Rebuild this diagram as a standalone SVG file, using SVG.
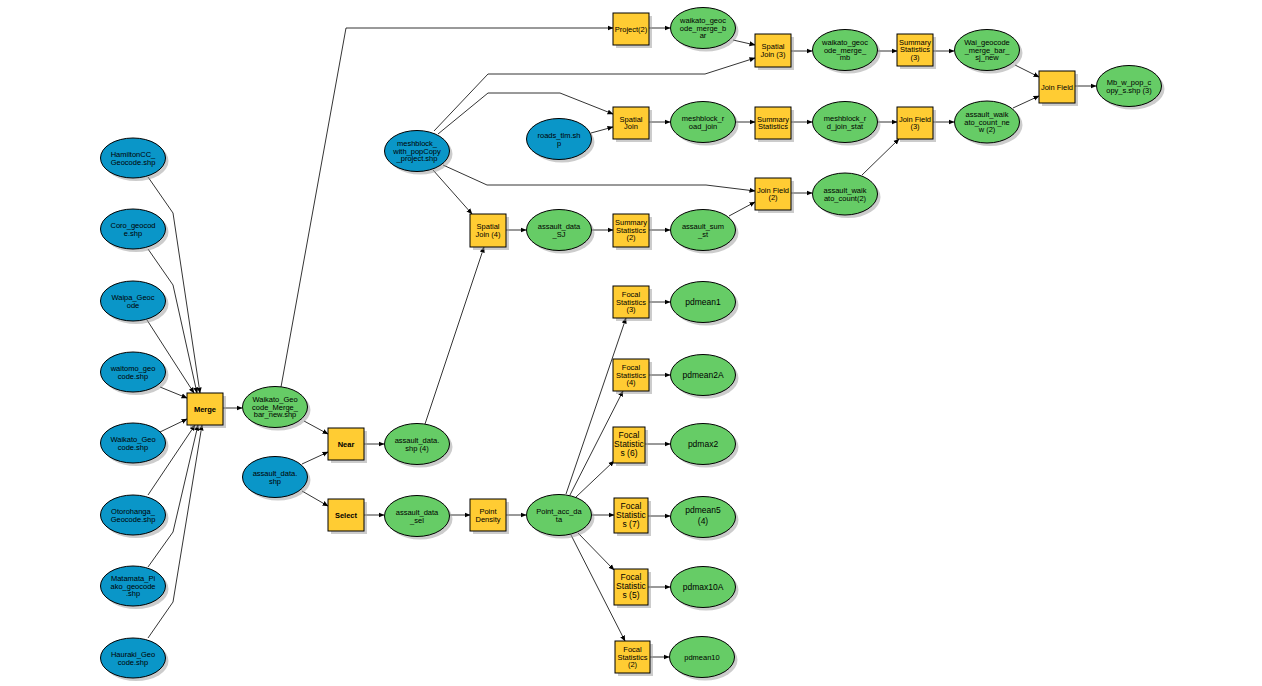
<svg xmlns="http://www.w3.org/2000/svg" width="1262" height="686" viewBox="0 0 1262 686">
<style>
.in{fill:#0A96C8;stroke:#000;stroke-width:1}
.out{fill:#66CC66;stroke:#000;stroke-width:1}
.tool{fill:#FFCC33;stroke:#000;stroke-width:1}
.sh{fill:#9A9A9A;opacity:0.5}
text{font-family:"Liberation Sans",Arial,sans-serif;font-size:7.5px;text-anchor:middle;fill:#000}
.b{font-weight:bold}
.big{font-size:8.5px}
#connectors path{fill:none;stroke:#000;stroke-width:0.8;marker-end:url(#arr)}
</style>
<defs>
<marker id="arr" markerUnits="userSpaceOnUse" markerWidth="6" markerHeight="6" refX="5.5" refY="3" orient="auto">
<path d="M0,0.5 L6,3 L0,5.5 z" fill="#000"/>
</marker>
</defs>
<rect width="1262" height="686" fill="#fff"/>

<g id="connectors">
<path d="M148,177 L173,213 L200,393"/>
<path d="M148,249 L173,285 L197,393"/>
<path d="M147,320 L194,393"/>
<path d="M160,387 L187,398"/>
<path d="M160,432 L187,419"/>
<path d="M148,495 L195,425"/>
<path d="M148,567 L173,532 L198,425"/>
<path d="M148,638 L173,602 L202,425"/>
<path d="M223,408 L242,408"/>
<path d="M281,387 L346,28 L613,28"/>
<path d="M304,421 L328,434"/>
<path d="M302,464 L328,452"/>
<path d="M302,491 L328,506"/>
<path d="M364,444 L384,444"/>
<path d="M364,515 L384,515"/>
<path d="M450,515 L470,515"/>
<path d="M506,515 L526,515"/>
<path d="M425,424 L484,247"/>
<path d="M433,170 L472,214"/>
<path d="M443,165 L487,185 L706,185 L755,191"/>
<path d="M438,134 L488,93 L560,93 L613,114"/>
<path d="M434,131 L488,74 L705,74 L755,58"/>
<path d="M591,133 L613,127"/>
<path d="M649,28 L670,28"/>
<path d="M733,40 L755,45"/>
<path d="M791,51 L812,51"/>
<path d="M878,51 L897,51"/>
<path d="M933,51 L954,51"/>
<path d="M1015,65 L1039,77"/>
<path d="M649,122 L670,122"/>
<path d="M736,122 L755,122"/>
<path d="M791,122 L812,122"/>
<path d="M878,122 L897,122"/>
<path d="M933,122 L954,122"/>
<path d="M1013,108 L1039,96"/>
<path d="M1075,86 L1096,86"/>
<path d="M862,175 L899,139"/>
<path d="M791,193 L812,193"/>
<path d="M729,216 L755,202"/>
<path d="M649,230 L670,230"/>
<path d="M592,230 L613,230"/>
<path d="M506,230 L526,230"/>
<path d="M566,494 L626,318"/>
<path d="M570,495 L623,391"/>
<path d="M576,497 L614,461"/>
<path d="M592,515 L614,515"/>
<path d="M578,533 L614,570"/>
<path d="M571,535 L625,641"/>
<path d="M649,302 L670,302"/>
<path d="M649,375 L670,375"/>
<path d="M645,444 L670,444"/>
<path d="M648,516 L670,516"/>
<path d="M648,587 L670,587"/>
<path d="M650,657 L669,657"/>
</g>

<!-- input data (blue) -->
<g id="hamilton"><ellipse class="sh" cx="136" cy="161" rx="32.5" ry="20"/><ellipse class="in" cx="133" cy="158" rx="32.5" ry="20"/><text x="133" y="157">HamiltonCC_<tspan x="133" dy="7.5">Geocode.shp</tspan></text></g>
<g id="coro"><ellipse class="sh" cx="136" cy="232" rx="32.5" ry="20"/><ellipse class="in" cx="133" cy="229" rx="32.5" ry="20"/><text x="133" y="228">Coro_geocod<tspan x="133" dy="7.5">e.shp</tspan></text></g>
<g id="waipa"><ellipse class="sh" cx="136" cy="304" rx="32.5" ry="20"/><ellipse class="in" cx="133" cy="301" rx="32.5" ry="20"/><text x="133" y="300">Waipa_Geoc<tspan x="133" dy="7.5">ode</tspan></text></g>
<g id="waitomo"><ellipse class="sh" cx="136" cy="375" rx="32.5" ry="20"/><ellipse class="in" cx="133" cy="372" rx="32.5" ry="20"/><text x="133" y="371">waitomo_geo<tspan x="133" dy="7.5">code.shp</tspan></text></g>
<g id="waikato"><ellipse class="sh" cx="136" cy="446" rx="32.5" ry="20"/><ellipse class="in" cx="133" cy="443" rx="32.5" ry="20"/><text x="133" y="442">Waikato_Geo<tspan x="133" dy="7.5">code.shp</tspan></text></g>
<g id="otorohanga"><ellipse class="sh" cx="136" cy="518" rx="32.5" ry="20"/><ellipse class="in" cx="133" cy="515" rx="32.5" ry="20"/><text x="133" y="514">Otorohanga_<tspan x="133" dy="7.5">Geocode.shp</tspan></text></g>
<g id="matamata"><ellipse class="sh" cx="136" cy="589" rx="32.5" ry="20"/><ellipse class="in" cx="133" cy="586" rx="32.5" ry="20"/><text x="133" y="581">Matamata_Pi<tspan x="133" dy="7.5">ako_geocode</tspan><tspan x="133" dy="7.5">.shp</tspan></text></g>
<g id="hauraki"><ellipse class="sh" cx="136" cy="661" rx="32.5" ry="20"/><ellipse class="in" cx="133" cy="658" rx="32.5" ry="20"/><text x="133" y="657">Hauraki_Geo<tspan x="133" dy="7.5">code.shp</tspan></text></g>
<g id="assault_data"><ellipse class="sh" cx="278" cy="480" rx="32.5" ry="20.5"/><ellipse class="in" cx="275" cy="477" rx="32.5" ry="20.5"/><text x="275" y="476">assault_data.<tspan x="275" dy="7.5">shp</tspan></text></g>
<g id="meshblock"><ellipse class="sh" cx="420" cy="154" rx="32.5" ry="20.5"/><ellipse class="in" cx="417" cy="151" rx="32.5" ry="20.5"/><text x="417" y="146">meshblock_<tspan x="417" dy="7.5">with_popCopy</tspan><tspan x="417" dy="7.5">_project.shp</tspan></text></g>
<g id="roads"><ellipse class="sh" cx="562" cy="142" rx="32.5" ry="20.5"/><ellipse class="in" cx="559" cy="139" rx="32.5" ry="20.5"/><text x="559" y="138">roads_tlm.sh<tspan x="559" dy="7.5">p</tspan></text></g>

<!-- tools (yellow) -->
<g id="merge"><rect class="sh" x="190" y="396" width="36" height="32"/><rect class="tool" x="187" y="393" width="36" height="32"/><text class="b" x="205" y="411.5">Merge</text></g>
<g id="near"><rect class="sh" x="331" y="431" width="36" height="32"/><rect class="tool" x="328" y="428" width="36" height="32"/><text class="b" x="346" y="446.5">Near</text></g>
<g id="select"><rect class="sh" x="331" y="502" width="36" height="32"/><rect class="tool" x="328" y="499" width="36" height="32"/><text class="b" x="346" y="517.5">Select</text></g>
<g id="pointdensity"><rect class="sh" x="473" y="502" width="36" height="32"/><rect class="tool" x="470" y="499" width="36" height="32"/><text x="488" y="514">Point<tspan x="488" dy="7.5">Density</tspan></text></g>
<g id="spatialjoin4"><rect class="sh" x="473" y="217" width="36" height="33"/><rect class="tool" x="470" y="214" width="36" height="33"/><text x="488" y="229">Spatial<tspan x="488" dy="7.5">Join (4)</tspan></text></g>
<g id="summary2"><rect class="sh" x="616" y="217" width="36" height="33"/><rect class="tool" x="613" y="214" width="36" height="33"/><text x="631" y="225">Summary<tspan x="631" dy="7.5">Statistics</tspan><tspan x="631" dy="7.5">(2)</tspan></text></g>
<g id="project2"><rect class="sh" x="616" y="16" width="36" height="32"/><rect class="tool" x="613" y="13" width="36" height="32"/><text x="631" y="31.5">Project(2)</text></g>
<g id="spatialjoin"><rect class="sh" x="616" y="110" width="36" height="32"/><rect class="tool" x="613" y="107" width="36" height="32"/><text x="631" y="121.5">Spatial<tspan x="631" dy="7.5">Join</tspan></text></g>
<g id="spatialjoin3"><rect class="sh" x="758" y="37" width="36" height="33"/><rect class="tool" x="755" y="34" width="36" height="33"/><text x="773" y="49">Spatial<tspan x="773" dy="7.5">Join (3)</tspan></text></g>
<g id="summary"><rect class="sh" x="758" y="110" width="36" height="32"/><rect class="tool" x="755" y="107" width="36" height="32"/><text x="773" y="121.5">Summary<tspan x="773" dy="7.5">Statistics</tspan></text></g>
<g id="joinfield2"><rect class="sh" x="758" y="181" width="36" height="32"/><rect class="tool" x="755" y="178" width="36" height="32"/><text x="773" y="192.5">Join Field<tspan x="773" dy="7.5">(2)</tspan></text></g>
<g id="summary3"><rect class="sh" x="900" y="37" width="36" height="32"/><rect class="tool" x="897" y="34" width="36" height="32"/><text x="915" y="44.5">Summary<tspan x="915" dy="7.5">Statistics</tspan><tspan x="915" dy="7.5">(3)</tspan></text></g>
<g id="joinfield3"><rect class="sh" x="900" y="110" width="36" height="32"/><rect class="tool" x="897" y="107" width="36" height="32"/><text x="915" y="121.5">Join Field<tspan x="915" dy="7.5">(3)</tspan></text></g>
<g id="joinfield"><rect class="sh" x="1042" y="74" width="36" height="32"/><rect class="tool" x="1039" y="71" width="36" height="32"/><text x="1057" y="89.5">Join Field</text></g>
<g id="focal3"><rect class="sh" x="616" y="289" width="36" height="32"/><rect class="tool" x="613" y="286" width="36" height="32"/><text x="631" y="297">Focal<tspan x="631" dy="7.5">Statistics</tspan><tspan x="631" dy="7.5">(3)</tspan></text></g>
<g id="focal4"><rect class="sh" x="616" y="362" width="36" height="32"/><rect class="tool" x="613" y="359" width="36" height="32"/><text x="631" y="370">Focal<tspan x="631" dy="7.5">Statistics</tspan><tspan x="631" dy="7.5">(4)</tspan></text></g>
<g id="focal6"><rect class="sh" x="616" y="430" width="32" height="36"/><rect class="tool" x="613" y="427" width="32" height="36"/><text class="big" x="629" y="437.5">Focal<tspan x="629" dy="9">Statistic</tspan><tspan x="629" dy="9">s (6)</tspan></text></g>
<g id="focal7"><rect class="sh" x="617" y="501" width="34" height="35"/><rect class="tool" x="614" y="498" width="34" height="35"/><text class="big" x="631" y="508.5">Focal<tspan x="631" dy="9">Statistic</tspan><tspan x="631" dy="9">s (7)</tspan></text></g>
<g id="focal5"><rect class="sh" x="617" y="572" width="34" height="36"/><rect class="tool" x="614" y="569" width="34" height="36"/><text class="big" x="631" y="580">Focal<tspan x="631" dy="9">Statistic</tspan><tspan x="631" dy="9">s (5)</tspan></text></g>
<g id="focal2"><rect class="sh" x="618" y="644" width="35" height="32"/><rect class="tool" x="615" y="641" width="35" height="32"/><text x="632.5" y="652">Focal<tspan x="632.5" dy="7.5">Statistics</tspan><tspan x="632.5" dy="7.5">(2)</tspan></text></g>

<!-- derived data (green) -->
<g id="wgm"><ellipse class="sh" cx="278" cy="410" rx="32.5" ry="20.5"/><ellipse class="out" cx="275" cy="407" rx="32.5" ry="20.5"/><text x="275" y="402">Waikato_Geo<tspan x="275" dy="7.5">code_Merge_</tspan><tspan x="275" dy="7.5">bar_new.shp</tspan></text></g>
<g id="ad4"><ellipse class="sh" cx="420" cy="447" rx="32.5" ry="20.5"/><ellipse class="out" cx="417" cy="444" rx="32.5" ry="20.5"/><text x="417" y="443">assault_data.<tspan x="417" dy="7.5">shp (4)</tspan></text></g>
<g id="adsel"><ellipse class="sh" cx="420" cy="519" rx="32.5" ry="20.5"/><ellipse class="out" cx="417" cy="516" rx="32.5" ry="20.5"/><text x="417" y="515">assault_data<tspan x="417" dy="7.5">_sel</tspan></text></g>
<g id="pad"><ellipse class="sh" cx="562" cy="518" rx="32.5" ry="20.5"/><ellipse class="out" cx="559" cy="515" rx="32.5" ry="20.5"/><text x="559" y="514">Point_acc_da<tspan x="559" dy="7.5">ta</tspan></text></g>
<g id="adsj"><ellipse class="sh" cx="562" cy="233" rx="32.5" ry="20.5"/><ellipse class="out" cx="559" cy="230" rx="32.5" ry="20.5"/><text x="559" y="229">assault_data<tspan x="559" dy="7.5">_SJ</tspan></text></g>
<g id="sumst"><ellipse class="sh" cx="706" cy="233" rx="32.5" ry="20.5"/><ellipse class="out" cx="703" cy="230" rx="32.5" ry="20.5"/><text x="703" y="229">assault_sum<tspan x="703" dy="7.5">_st</tspan></text></g>
<g id="wgmb"><ellipse class="sh" cx="706" cy="31" rx="32.5" ry="20.5"/><ellipse class="out" cx="703" cy="28" rx="32.5" ry="20.5"/><text x="703" y="23">waikato_geoc<tspan x="703" dy="7.5">ode_merge_b</tspan><tspan x="703" dy="7.5">ar</tspan></text></g>
<g id="rdjoin"><ellipse class="sh" cx="706" cy="125" rx="32.5" ry="20.5"/><ellipse class="out" cx="703" cy="122" rx="32.5" ry="20.5"/><text x="703" y="121">meshblock_r<tspan x="703" dy="7.5">oad_join</tspan></text></g>
<g id="wgmm"><ellipse class="sh" cx="848" cy="53" rx="32.5" ry="20.5"/><ellipse class="out" cx="845" cy="50" rx="32.5" ry="20.5"/><text x="845" y="45">waikato_geoc<tspan x="845" dy="7.5">ode_merge_</tspan><tspan x="845" dy="7.5">mb</tspan></text></g>
<g id="rdstat"><ellipse class="sh" cx="848" cy="125" rx="32.5" ry="20.5"/><ellipse class="out" cx="845" cy="122" rx="32.5" ry="20.5"/><text x="845" y="121">meshblock_r<tspan x="845" dy="7.5">d_join_stat</tspan></text></g>
<g id="awc2"><ellipse class="sh" cx="848" cy="197" rx="32.5" ry="21"/><ellipse class="out" cx="845" cy="194" rx="32.5" ry="21"/><text x="845" y="193">assault_waik<tspan x="845" dy="7.5">ato_count(2)</tspan></text></g>
<g id="wai"><ellipse class="sh" cx="990" cy="53" rx="32.5" ry="20.5"/><ellipse class="out" cx="987" cy="50" rx="32.5" ry="20.5"/><text x="987" y="45">Wai_geocode<tspan x="987" dy="7.5">_merge_bar_</tspan><tspan x="987" dy="7.5">sj_new</tspan></text></g>
<g id="awcn"><ellipse class="sh" cx="990" cy="125" rx="32.5" ry="21"/><ellipse class="out" cx="987" cy="122" rx="32.5" ry="21"/><text x="987" y="117">assault_waik<tspan x="987" dy="7.5">ato_count_ne</tspan><tspan x="987" dy="7.5">w (2)</tspan></text></g>
<g id="mbcopy"><ellipse class="sh" cx="1132" cy="89" rx="32.5" ry="20.5"/><ellipse class="out" cx="1129" cy="86" rx="32.5" ry="20.5"/><text x="1129" y="85">Mb_w_pop_c<tspan x="1129" dy="7.5">opy_s.shp (3)</tspan></text></g>
<g id="pdmean1"><ellipse class="sh" cx="706" cy="305" rx="32.5" ry="20.5"/><ellipse class="out" cx="703" cy="302" rx="32.5" ry="20.5"/><text class="big" x="703" y="305">pdmean1</text></g>
<g id="pdmean2A"><ellipse class="sh" cx="706" cy="378" rx="32.5" ry="20.5"/><ellipse class="out" cx="703" cy="375" rx="32.5" ry="20.5"/><text class="big" x="703" y="378">pdmean2A</text></g>
<g id="pdmax2"><ellipse class="sh" cx="706" cy="447" rx="32.5" ry="20.5"/><ellipse class="out" cx="703" cy="444" rx="32.5" ry="20.5"/><text class="big" x="703" y="447">pdmax2</text></g>
<g id="pdmean5"><ellipse class="sh" cx="706" cy="520" rx="32.5" ry="20.5"/><ellipse class="out" cx="703" cy="517" rx="32.5" ry="20.5"/><text class="big" x="703" y="513">pdmean5<tspan x="703" dy="11">(4)</tspan></text></g>
<g id="pdmax10A"><ellipse class="sh" cx="706" cy="590" rx="32.5" ry="20.5"/><ellipse class="out" cx="703" cy="587" rx="32.5" ry="20.5"/><text class="big" x="703" y="590">pdmax10A</text></g>
<g id="pdmean10"><ellipse class="sh" cx="705" cy="660" rx="32.5" ry="20.5"/><ellipse class="out" cx="702" cy="657" rx="32.5" ry="20.5"/><text x="702" y="659.5">pdmean10</text></g>
</svg>
